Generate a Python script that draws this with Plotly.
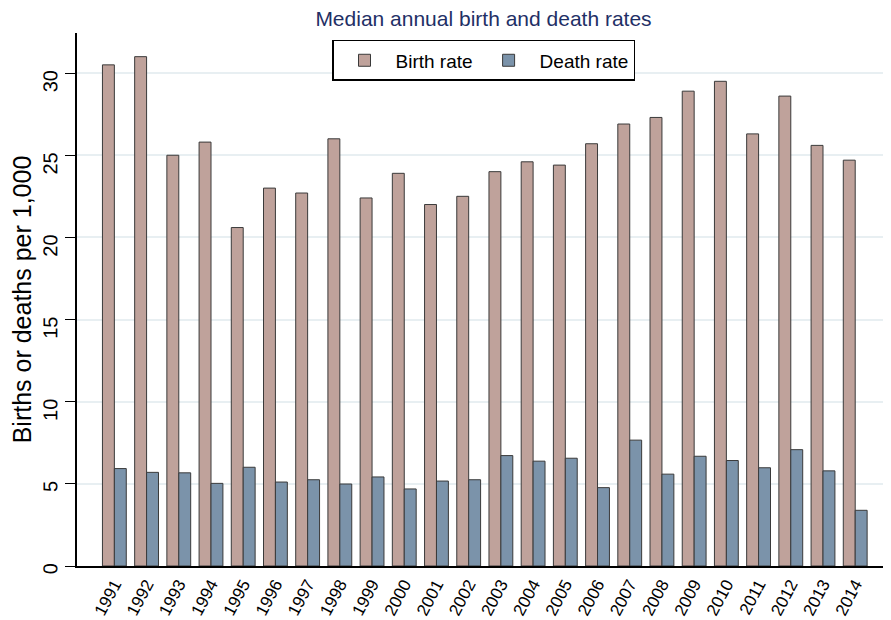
import plotly.graph_objects as go

years = [str(y) for y in range(1991, 2015)]
birth_rate = [30.5, 31.0, 25.0, 25.8, 20.6, 23.0, 22.7, 26.0, 22.4, 23.9, 22.0, 22.5,
              24.0, 24.6, 24.4, 25.7, 26.9, 27.3, 28.9, 29.5, 26.3, 28.6, 25.6, 24.7]
death_rate = [5.93, 5.70, 5.67, 5.03, 6.01, 5.11, 5.25, 4.99, 5.42, 4.69, 5.17, 5.25,
              6.72, 6.38, 6.56, 4.77, 7.66, 5.59, 6.68, 6.42, 5.98, 7.08, 5.79, 3.39]
y_ticks = [0, 5, 10, 15, 20, 25, 30]

FONT = "Arial, Liberation Sans, sans-serif"

# The page body has an 8px margin, so the figure is drawn 8px smaller and offset.
W, H = 883, 612

fig = go.Figure()
fig.add_trace(go.Bar(x=years, y=birth_rate, name="Birth rate",
                     marker=dict(color="#bfa29b", line=dict(color="#3a3a3a", width=1))))
fig.add_trace(go.Bar(x=years, y=death_rate, name="Death rate",
                     marker=dict(color="#7b93aa", line=dict(color="#3a3a3a", width=1))))

fig.update_layout(
    width=W, height=H,
    margin=dict(l=69, r=1, t=25, b=54, autoexpand=False),
    paper_bgcolor="white", plot_bgcolor="white",
    barmode="group", bargap=0.26, bargroupgap=0,
    font=dict(family=FONT, color="black"),
    title=dict(text="Median annual birth and death rates", x=(69 + 882) / 2 / W,
               xanchor="center", y=1 - 3 / H, yanchor="top", yref="container",
               font=dict(size=21, color="#1f3066", family=FONT)),
    legend=dict(orientation="h", x=0.5, xanchor="center", y=0.987, yanchor="top",
                bordercolor="black", borderwidth=1.5, bgcolor="white",
                font=dict(size=19, family=FONT), itemwidth=52,
                traceorder="normal"),
    xaxis=dict(type="category", range=[-1.16, 24.08], showline=True, linecolor="black",
               linewidth=1.5, ticks="", tickangle=-62, tickfont=dict(size=17),
               ticklabelstandoff=0,
               showgrid=False, zeroline=False, automargin=False),
    yaxis=dict(range=[0, 32.44], tickvals=y_ticks, showline=True, linecolor="black",
               linewidth=1.5, ticks="outside", ticklen=10, tickwidth=1, tickcolor="black",
               tickangle=-89.9, tickfont=dict(size=20), ticklabelstandoff=14,
               showgrid=True, gridcolor="#e8eff2",
               gridwidth=1.5, zeroline=False, automargin=False,
               title=dict(text="Births or deaths per 1,000", font=dict(size=25), standoff=0)),
)

fig.write_html("out.html")
